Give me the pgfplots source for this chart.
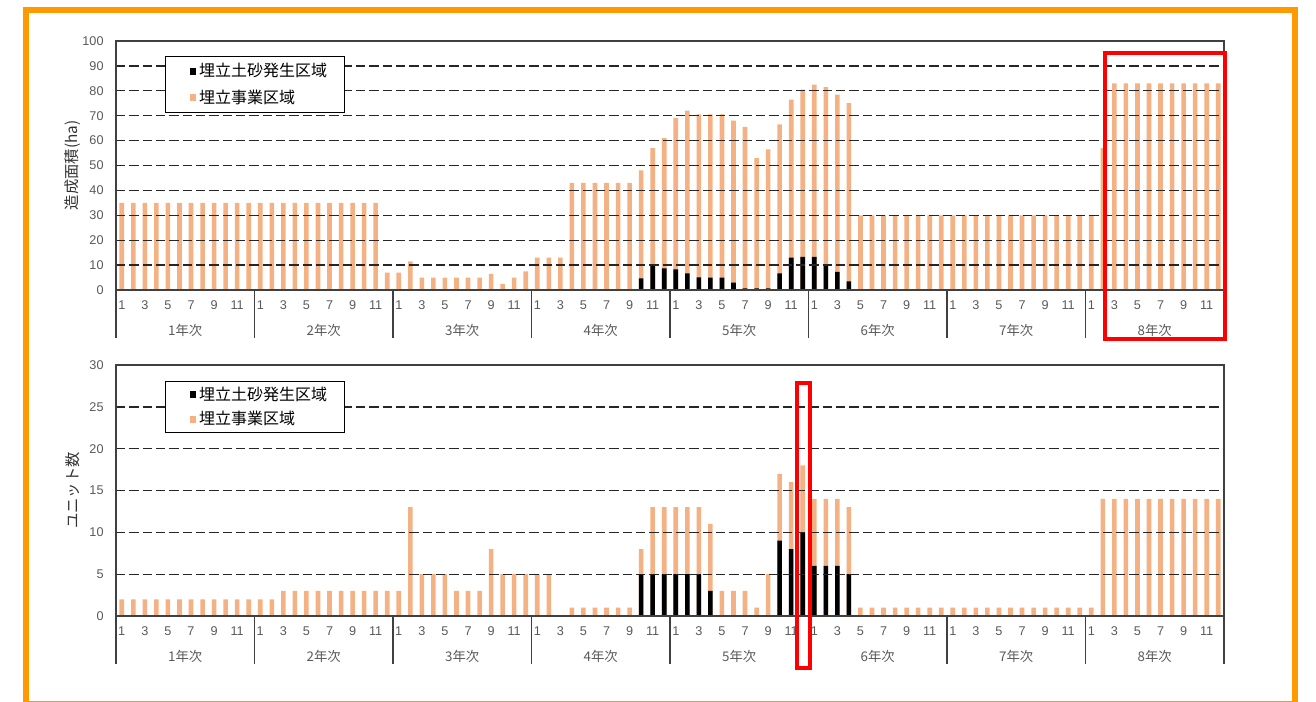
\documentclass[border=0pt]{standalone}
\usepackage{fontspec}
\setmainfont{Liberation Sans}
\newfontfamily\jp{Noto Sans CJK JP}
\usepackage{pgfplots}
\pgfplotsset{compat=1.18}
\definecolor{barorange}{RGB}{244,177,131}
\definecolor{frameorange}{RGB}{255,153,0}
\definecolor{axgray}{RGB}{89,89,89}
\definecolor{boxred}{RGB}{255,0,0}

\tikzset{
  yearlab/.style={font=\jp\fontsize{10}{12}\selectfont, text=axgray, anchor=center, yshift=-30pt},
  sepline/.style={draw=black!75, line width=0.9pt},
}
\pgfplotsset{
  common/.style={
    scale only axis, width=831pt,
    xmin=0.5, xmax=96.5, ymin=0,
    clip=false, axis on top,
    axis line style={draw=black!75, line width=0.9pt},
    ymajorgrids,
    grid style={draw=black!85, line width=1pt, dash pattern=on 7pt off 3pt},
    xtick={1,3,...,95},
    xticklabels={1,3,5,7,9,11,1,3,5,7,9,11,1,3,5,7,9,11,1,3,5,7,9,11,1,3,5,7,9,11,1,3,5,7,9,11,1,3,5,7,9,11,1,3,5,7,9,11},
    tick style={draw=none},
    tick label style={font=\fontsize{9.5}{11}\selectfont, text=axgray},
    xticklabel style={anchor=center, yshift=-11.25pt},
    yticklabel style={anchor=east, xshift=-5.8pt},
    /pgf/number format/assume math mode=true,
    ylabel style={at={(axis description cs:-0.0388,0.5)}, anchor=center, font=\jp\fontsize{11.5}{13}\selectfont, text=black!80},
    legend cell align=left,
    reverse legend,
    legend style={draw=black, line width=0.8pt, fill=white, font=\jp\fontsize{12}{14}\selectfont,
      inner xsep=11pt, inner ysep=3.25pt, row sep=4.25pt, nodes={inner sep=2pt}},
  },
  orangebar/.style={ybar, bar width=0.4, bar shift=0pt, fill=barorange, draw=none,
    legend image code/.code={\path (0pt,0pt) (7pt,0pt); \fill (7pt,-2.6pt) rectangle (12.2pt,2.6pt);}},
  blackbar/.style={ybar, bar width=0.4, bar shift=0pt, fill=black, draw=none,
    legend image code/.code={\path (0pt,0pt) (7pt,0pt); \fill (7pt,-2.6pt) rectangle (12.2pt,2.6pt);}},
}

\begin{document}
\begin{tikzpicture}
\useasboundingbox (0,0) rectangle (987pt,-526.5pt);

% ---------------- top chart ----------------
\begin{axis}[common, at={(87pt,-217.5pt)}, anchor=south west, height=186.75pt,
  ymax=100, ytick={0,10,...,100},
  ylabel={造成面積(ha)},
  legend style={at={(0.0442,0.94)}, anchor=north west}]
\addplot[orangebar] coordinates {
(1,35)(2,35)(3,35)(4,35)(5,35)(6,35)(7,35)(8,35)(9,35)(10,35)(11,35)(12,35)
(13,35)(14,35)(15,35)(16,35)(17,35)(18,35)(19,35)(20,35)(21,35)(22,35)(23,35)(24,7)
(25,7)(26,11.5)(27,5)(28,5)(29,5)(30,5)(31,5)(32,5)(33,6.5)(34,2.5)(35,5)(36,7.5)
(37,13)(38,13)(39,13)(40,43)(41,43)(42,43)(43,43)(44,43)(45,43)(46,48)(47,57)(48,61)
(49,69)(50,72)(51,70.5)(52,70.5)(53,70.5)(54,68)(55,65.5)(56,53)(57,56.5)(58,66.5)(59,76.5)(60,80.5)
(61,82.5)(62,81.5)(63,78.5)(64,75)(65,30)(66,30)(67,30)(68,30)(69,30)(70,30)(71,30)(72,30)
(73,30)(74,30)(75,30)(76,30)(77,30)(78,30)(79,30)(80,30)(81,30)(82,30)(83,30)(84,30)
(85,30)(86,57)(87,83)(88,83)(89,83)(90,83)(91,83)(92,83)(93,83)(94,83)(95,83)(96,83)
};
\addlegendentry{埋立事業区域}
\addplot[blackbar] coordinates {
(46,4.7)(47,9.6)(48,8.7)(49,8.3)(50,6.7)(51,5.1)(52,5)(53,5)(54,3)(55,0.7)(56,0.7)(57,0.7)
(58,6.7)(59,13)(60,13.3)(61,13.3)(62,10.4)(63,7.3)(64,3.5)
};
\addlegendentry{埋立土砂発生区域}
\draw[sepline] (axis cs:0.5,0) -- ++(0pt,-36pt);
\draw[sepline] (axis cs:12.5,0) -- ++(0pt,-36pt);
\draw[sepline] (axis cs:24.5,0) -- ++(0pt,-36pt);
\draw[sepline] (axis cs:36.5,0) -- ++(0pt,-36pt);
\draw[sepline] (axis cs:48.5,0) -- ++(0pt,-36pt);
\draw[sepline] (axis cs:60.5,0) -- ++(0pt,-36pt);
\draw[sepline] (axis cs:72.5,0) -- ++(0pt,-36pt);
\draw[sepline] (axis cs:84.5,0) -- ++(0pt,-36pt);
\draw[sepline] (axis cs:96.5,0) -- ++(0pt,-36pt);
\node[yearlab] at (axis cs:6.5,0) {1年次};
\node[yearlab] at (axis cs:18.5,0) {2年次};
\node[yearlab] at (axis cs:30.5,0) {3年次};
\node[yearlab] at (axis cs:42.5,0) {4年次};
\node[yearlab] at (axis cs:54.5,0) {5年次};
\node[yearlab] at (axis cs:66.5,0) {6年次};
\node[yearlab] at (axis cs:78.5,0) {7年次};
\node[yearlab] at (axis cs:90.5,0) {8年次};
\end{axis}

% ---------------- bottom chart ----------------
\begin{axis}[common, at={(87pt,-462pt)}, anchor=south west, height=188.25pt,
  ymax=30, ytick={0,5,...,30},
  ylabel={ユニット数},
  legend style={at={(0.0442,0.936)}, anchor=north west, inner ysep=2pt, row sep=2.75pt}]
\addplot[orangebar] coordinates {
(1,2)(2,2)(3,2)(4,2)(5,2)(6,2)(7,2)(8,2)(9,2)(10,2)(11,2)(12,2)
(13,2)(14,2)(15,3)(16,3)(17,3)(18,3)(19,3)(20,3)(21,3)(22,3)(23,3)(24,3)
(25,3)(26,13)(27,5)(28,5)(29,5)(30,3)(31,3)(32,3)(33,8)(34,5)(35,5)(36,5)
(37,5)(38,5)(40,1)(41,1)(42,1)(43,1)(44,1)(45,1)(46,8)(47,13)(48,13)
(49,13)(50,13)(51,13)(52,11)(53,3)(54,3)(55,3)(56,1)(57,5)(58,17)(59,16)(60,18)
(61,14)(62,14)(63,14)(64,13)(65,1)(66,1)(67,1)(68,1)(69,1)(70,1)(71,1)(72,1)
(73,1)(74,1)(75,1)(76,1)(77,1)(78,1)(79,1)(80,1)(81,1)(82,1)(83,1)(84,1)
(85,1)(86,14)(87,14)(88,14)(89,14)(90,14)(91,14)(92,14)(93,14)(94,14)(95,14)(96,14)
};
\addlegendentry{埋立事業区域}
\addplot[blackbar] coordinates {
(46,5)(47,5)(48,5)(49,5)(50,5)(51,5)(52,3)
(58,9)(59,8)(60,10)(61,6)(62,6)(63,6)(64,5)
};
\addlegendentry{埋立土砂発生区域}
\draw[sepline] (axis cs:0.5,0) -- ++(0pt,-36pt);
\draw[sepline] (axis cs:12.5,0) -- ++(0pt,-36pt);
\draw[sepline] (axis cs:24.5,0) -- ++(0pt,-36pt);
\draw[sepline] (axis cs:36.5,0) -- ++(0pt,-36pt);
\draw[sepline] (axis cs:48.5,0) -- ++(0pt,-36pt);
\draw[sepline] (axis cs:60.5,0) -- ++(0pt,-36pt);
\draw[sepline] (axis cs:72.5,0) -- ++(0pt,-36pt);
\draw[sepline] (axis cs:84.5,0) -- ++(0pt,-36pt);
\draw[sepline] (axis cs:96.5,0) -- ++(0pt,-36pt);
\node[yearlab] at (axis cs:6.5,0) {1年次};
\node[yearlab] at (axis cs:18.5,0) {2年次};
\node[yearlab] at (axis cs:30.5,0) {3年次};
\node[yearlab] at (axis cs:42.5,0) {4年次};
\node[yearlab] at (axis cs:54.5,0) {5年次};
\node[yearlab] at (axis cs:66.5,0) {6年次};
\node[yearlab] at (axis cs:78.5,0) {7年次};
\node[yearlab] at (axis cs:90.5,0) {8年次};
\end{axis}

% annotation frames
\draw[boxred, line width=3pt] (828.75pt,-39.75pt) rectangle (918.75pt,-254.25pt);
\draw[boxred, line width=3pt] (597.75pt,-287.25pt) rectangle (607.5pt,-501pt);
\draw[frameorange, line width=4.5pt] (19.5pt,-7.5pt) rectangle (971.25pt,-528pt);
\end{tikzpicture}
\end{document}
